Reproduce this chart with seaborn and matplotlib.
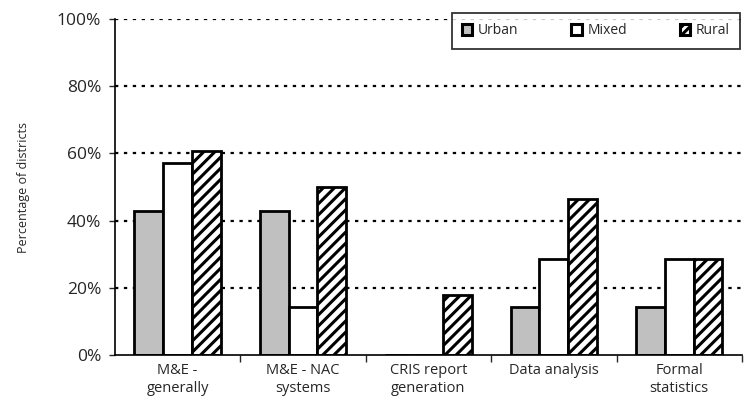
import pandas as pd
import matplotlib
matplotlib.use('Agg')
import matplotlib.pyplot as plt
import seaborn as sns
from matplotlib.ticker import FixedLocator, PercentFormatter
from matplotlib.patches import Patch

# Dados (percentual de distritos)
categorias = ['M&E -\ngenerally', 'M&E - NAC\nsystems', 'CRIS report\ngeneration',
              'Data analysis', 'Formal\nstatistics']
urbano = [42.9, 42.9, 0.0, 14.3, 14.3]
misto = [57.1, 14.3, 0.0, 28.6, 28.6]
rural = [60.7, 50.0, 17.9, 46.4, 28.6]
series = ['Urban', 'Mixed', 'Rural']

df = pd.DataFrame({
    'categoria': categorias * 3,
    'tipo': [s for s in series for _ in categorias],
    'valor': urbano + misto + rural,
})

sns.set_style('white')
plt.rcParams['font.family'] = ['Open Sans', 'DejaVu Sans']
plt.rcParams['hatch.linewidth'] = 2.2

fig = plt.figure(figsize=(7.49, 4.09), dpi=100)
ax = fig.add_axes([0.1535, 0.132, 0.837, 0.8215])

cores = {'Urban': '#c0c0c0', 'Mixed': 'white', 'Rural': 'white'}
sns.barplot(data=df, x='categoria', y='valor', hue='tipo', hue_order=series,
            palette=cores, edgecolor='black', linewidth=2, width=0.69,
            saturation=1, ax=ax, legend=False)

# Hachura nas barras rurais
for bar in ax.containers[2]:
    bar.set_hatch('///')

ax.set_ylim(0, 100)
ax.set_xlim(-0.5, 4.5)
ax.yaxis.set_major_locator(FixedLocator([0, 20, 40, 60, 80, 100]))
ax.yaxis.set_major_formatter(PercentFormatter(decimals=0))
for y in [20, 40, 60, 80, 100]:
    ax.axhline(y, color='black', linestyle=(0, (1.5, 2.5)), linewidth=1.6, zorder=0)

ax.xaxis.set_minor_locator(FixedLocator([0.5, 1.5, 2.5, 3.5, 4.5]))
ax.tick_params(axis='x', which='major', length=0, labelsize=10.5, pad=6)
ax.tick_params(axis='x', which='minor', length=5, width=1, direction='out', bottom=True)
ax.tick_params(axis='y', length=4, width=1, direction='out', left=True, labelsize=12.5, pad=6)

ax.set_xlabel('')
ax.set_ylabel('Percentage of districts', fontsize=9, labelpad=19)

for lado in ['top', 'right']:
    ax.spines[lado].set_visible(False)
for lado in ['left', 'bottom']:
    ax.spines[lado].set_color('black')
    ax.spines[lado].set_linewidth(1.2)

# Legenda
handles = [Patch(facecolor=cores[s], edgecolor='black', linewidth=2.2,
                 hatch='////' if s == 'Rural' else None) for s in series]
leg = ax.legend(handles, series, ncol=3, loc='upper right',
                bbox_to_anchor=(0.997, 1.018), frameon=True, fancybox=False,
                edgecolor='black', fontsize=10, handlelength=0.75, handleheight=0.75,
                columnspacing=3.8, handletextpad=0.4, borderpad=0.75,
                borderaxespad=0)
leg.get_frame().set_linewidth(1.3)

fig.savefig('out.png', dpi=100)
